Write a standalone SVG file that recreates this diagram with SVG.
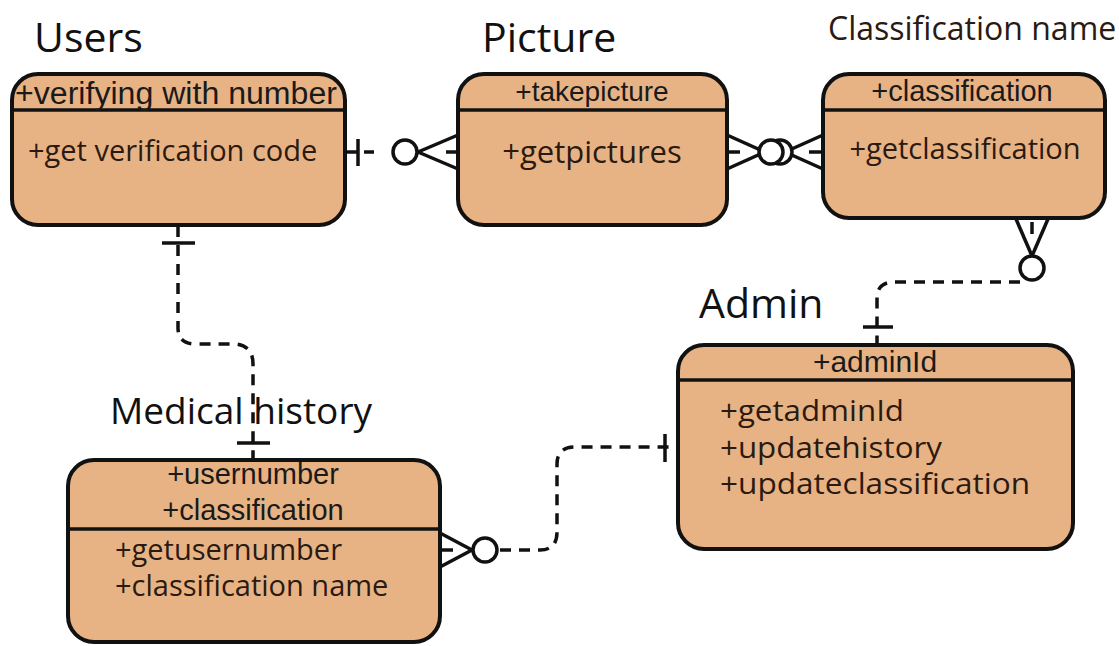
<svg xmlns="http://www.w3.org/2000/svg" width="1119" height="646" viewBox="0 0 1119 646">
<style>
.box{fill:#E8B384;stroke:#111;stroke-width:4}
.div{stroke:#111;stroke-width:3.5}
.hd{font-family:"Liberation Sans",Arial,sans-serif;font-size:29px;fill:#1a1a1a;text-anchor:middle}
.bd{font-family:"Open Sans","Noto Sans",sans-serif;font-size:30px;fill:#2a1a12}
.ttl{font-family:"Open Sans","Noto Sans",sans-serif;font-size:41px;fill:#111}
.dash{fill:none;stroke:#111;stroke-width:3.5;stroke-dasharray:11 8}
.sol{fill:none;stroke:#111;stroke-width:3.5}
.circ{fill:#fff;stroke:#111;stroke-width:3.5}
</style>
<rect width="1119" height="646" fill="#fff"/>
<g id="connectors">
  <!-- Users - Picture -->
  <line class="sol" x1="345" y1="152" x2="358" y2="152"/>
  <line class="sol" x1="358" y1="139" x2="358" y2="166"/>
  <line class="sol" x1="364" y1="152" x2="374" y2="152"/>
  <line class="sol" x1="418" y1="152" x2="458" y2="135"/>
  <line class="sol" x1="418" y1="152" x2="458" y2="169"/>
  <line class="sol" x1="446" y1="152" x2="456" y2="152"/>
  <circle class="circ" cx="405" cy="152" r="12"/>
  <!-- Picture - Classification -->
  <line class="sol" x1="727" y1="135" x2="765" y2="152"/>
  <line class="sol" x1="727" y1="169" x2="765" y2="152"/>
  <line class="sol" x1="729" y1="152" x2="740" y2="152"/>
  <line class="sol" x1="785" y1="152" x2="823" y2="135"/>
  <line class="sol" x1="785" y1="152" x2="823" y2="169"/>
  <line class="sol" x1="809" y1="152" x2="821" y2="152"/>
  <circle class="circ" cx="780" cy="152" r="12"/>
  <circle class="circ" cx="771" cy="152" r="12"/>
  <!-- Classification - Admin -->
  <line class="sol" x1="1016" y1="219" x2="1032" y2="256"/>
  <line class="sol" x1="1048" y1="219" x2="1032" y2="256"/>
  <line class="sol" x1="1032" y1="222" x2="1032" y2="234"/>
  <path class="dash" d="M1020 282 L895 282 Q877 282 877 298 L877 345"/>
  <line class="sol" x1="863" y1="327" x2="893" y2="327"/>
  <circle class="circ" cx="1032" cy="268" r="12"/>
  <!-- Users - Medical history -->
  <path class="dash" d="M178 226 L178 328 Q178 344 196 344 L236 344 Q253 346 253 364 L253 460"/>
  <line class="sol" x1="162" y1="243" x2="195" y2="243"/>
  <line class="sol" x1="237" y1="443" x2="270" y2="443"/>
  <!-- Medical history - Admin -->
  <line class="sol" x1="440" y1="533" x2="472" y2="550"/>
  <line class="sol" x1="440" y1="567" x2="472" y2="550"/>
  <line class="sol" x1="442" y1="550" x2="453" y2="550"/>
  <circle class="circ" cx="485" cy="550" r="12"/>
  <path class="dash" d="M500 550 L540 550 Q557 550 557 532 L557 464 Q557 447 575 447 L678 447"/>
  <line class="sol" x1="665" y1="434" x2="665" y2="462"/>
</g>
<g id="users">
  <text class="ttl" x="34" y="52">Users</text>
  <rect class="box" x="12" y="74" width="333" height="151" rx="26"/>
  <line class="div" x1="12" y1="110" x2="345" y2="110"/>
  <text class="hd" x="176" y="104" textLength="322" lengthAdjust="spacingAndGlyphs" style="font-size:31px">+verifying with number</text>
  <text class="bd" x="28" y="161" style="font-size:29px">+get verification code</text>
</g>
<g id="picture">
  <text class="ttl" x="482" y="52">Picture</text>
  <rect class="box" x="458" y="74" width="269" height="151" rx="26"/>
  <line class="div" x1="458" y1="110" x2="727" y2="110"/>
  <text class="hd" x="592" y="101" style="font-size:28px">+takepicture</text>
  <text class="bd" x="592" y="163" text-anchor="middle" style="font-size:31px">+getpictures</text>
</g>
<g id="classification">
  <text class="bd" x="828" y="40" style="font-size:32px">Classification name</text>
  <rect class="box" x="823" y="74" width="282" height="144" rx="26"/>
  <line class="div" x1="823" y1="110" x2="1105" y2="110"/>
  <text class="hd" x="962" y="101">+classification</text>
  <text class="bd" x="965" y="159" text-anchor="middle" style="font-size:29px">+getclassification</text>
</g>
<g id="admin">
  <text class="ttl" x="699" y="318">Admin</text>
  <rect class="box" x="678" y="345" width="395" height="204" rx="26"/>
  <line class="div" x1="678" y1="380" x2="1073" y2="380"/>
  <text class="hd" x="875" y="372" style="font-size:30px">+adminId</text>
  <text class="bd" x="720" y="421" textLength="184" lengthAdjust="spacingAndGlyphs">+getadminId</text>
  <text class="bd" x="720" y="458" textLength="222" lengthAdjust="spacingAndGlyphs">+updatehistory</text>
  <text class="bd" x="720" y="494" textLength="310" lengthAdjust="spacingAndGlyphs">+updateclassification</text>
</g>
<g id="medical">
  <text class="ttl" x="110" y="424" style="font-size:37px">Medical history</text>
  <rect class="box" x="68" y="460" width="372" height="182" rx="26"/>
  <line class="div" x1="68" y1="529" x2="440" y2="529"/>
  <text class="hd" x="253" y="484">+usernumber</text>
  <text class="hd" x="253" y="520">+classification</text>
  <text class="bd" x="115" y="560" style="font-size:29px">+getusernumber</text>
  <text class="bd" x="115" y="596" style="font-size:29px">+classification name</text>
</g>
</svg>
